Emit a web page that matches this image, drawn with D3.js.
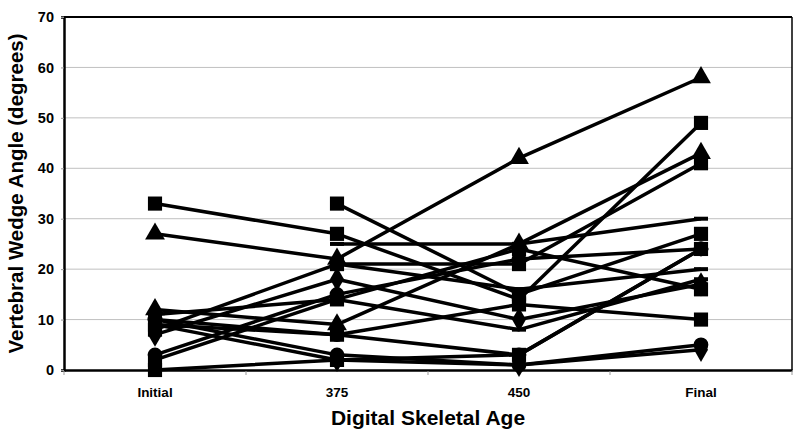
<!DOCTYPE html>
<html>
<head>
<meta charset="utf-8">
<script src="https://cdn.jsdelivr.net/npm/d3@7"></script>
<style>
  body { margin: 0; background: #fff; }
  text { font-family: "Liberation Sans", Arial, sans-serif; font-weight: bold; }
</style>
</head>
<body>
<svg id="chart" width="800" height="443"></svg>
<script>
// Data
var categories = ['Initial', '375', '450', 'Final'];
var yTicks = [0, 10, 20, 30, 40, 50, 60, 70];

// one array per specimen, null = not measured
var s1 = [27, 22, 42, 58],   // triangle
    s2 = [33, 27, 14, 49],   // square
    s3 = [null, 33, 15, 27], // square
    s4 = [12, 9, 25, 43],    // triangle
    s5 = [8, 21, 21, 41],    // square
    s6 = [null, 25, 25, 30], // dash
    s7 = [3, 15, 22, 24],    // circle
    s8 = [7, 18, 10, 17],    // diamond
    s9 = [0, 2, 3, 24],      // square
    s10 = [2, 14, 24, 16],   // square
    s11 = [10, 3, 1, 5],     // circle
    s12 = [9, 2, 1, 4],      // diamond
    s13 = [10, 7, 3, 24],    // circle
    s14 = [11, 14, 8, 18],   // dash
    s15 = [9, 7, 13, 10],    // square
    s16 = [null, 21, 16, 20]; // dash

var seriesList = [
    { values: s1, marker: 'triangle' },
    { values: s2, marker: 'square' },
    { values: s3, marker: 'square' },
    { values: s4, marker: 'triangle' },
    { values: s5, marker: 'square' },
    { values: s6, marker: 'dash' },
    { values: s7, marker: 'circle' },
    { values: s8, marker: 'diamond' },
    { values: s9, marker: 'square' },
    { values: s10, marker: 'square' },
    { values: s11, marker: 'circle' },
    { values: s12, marker: 'diamond' },
    { values: s13, marker: 'circle' },
    { values: s14, marker: 'dash' },
    { values: s15, marker: 'square' },
    { values: s16, marker: 'dash' }
];

var margin = { top: 17, right: 8, bottom: 73, left: 64 },
    width = 800 - margin.left - margin.right,
    height = 443 - margin.top - margin.bottom;

var svg = d3.select('#chart');
var g = svg.append('g').attr('transform', 'translate(' + margin.left + ',' + margin.top + ')');

var x = d3.scaleBand().domain(categories).range([0, width]).padding(0);
var y = d3.scaleLinear().domain([0, 70]).range([height, 0]);

// gridlines
g.selectAll('.grid').data(yTicks.slice(1, -1)).enter().append('line')
    .attr('x1', 0).attr('x2', width)
    .attr('y1', function (d) { return y(d); })
    .attr('y2', function (d) { return y(d); })
    .attr('stroke', '#c0c0c0').attr('stroke-width', 1);

// frame (top & right)
g.append('line').attr('x1', 0).attr('x2', width).attr('y1', 0).attr('y2', 0)
    .attr('stroke', '#000').attr('stroke-width', 2);
g.append('line').attr('x1', width).attr('x2', width).attr('y1', 0).attr('y2', height)
    .attr('stroke', '#000').attr('stroke-width', 1.5);

// y axis
var yAxis = g.append('g').call(d3.axisLeft(y).tickValues(yTicks).tickSize(3).tickPadding(7));
yAxis.select('.domain').attr('stroke', '#000').attr('stroke-width', 2.5);
yAxis.selectAll('.tick line').attr('stroke', '#999');
yAxis.selectAll('.tick text').attr('font-size', 14.5).attr('fill', '#000')
    .style('font-family', '"Liberation Sans", Arial, sans-serif').style('font-weight', 'bold');

// x axis
var xAxis = g.append('g').attr('transform', 'translate(0,' + height + ')')
    .call(d3.axisBottom(x).tickSize(0).tickPadding(17));
xAxis.select('.domain').attr('stroke', '#000').attr('stroke-width', 2.5);
xAxis.selectAll('.tick text').attr('font-size', 13.5).attr('fill', '#000')
    .style('font-family', '"Liberation Sans", Arial, sans-serif').style('font-weight', 'bold');
// boundary ticks between categories
var bounds = categories.map(function (c) { return x(c); }).concat([width]);
g.selectAll('.btick').data(bounds).enter().append('line')
    .attr('x1', function (d) { return d; }).attr('x2', function (d) { return d; })
    .attr('y1', height + 1).attr('y2', height + 5)
    .attr('stroke', '#999').attr('stroke-width', 1);

// lines
var line = d3.line()
    .defined(function (d) { return d != null; })
    .x(function (d, i) { return x(categories[i]) + x.bandwidth() / 2; })
    .y(function (d) { return y(d); });

g.selectAll('.series').data(seriesList).enter().append('path')
    .attr('d', function (s) { return line(s.values); })
    .attr('fill', 'none').attr('stroke', '#000').attr('stroke-width', 3.5)
    .attr('stroke-linejoin', 'round');

// markers
var symbolTypes = {
    square: d3.symbol().type(d3.symbolSquare).size(200),
    triangle: d3.symbol().type(d3.symbolTriangle).size(170),
    circle: d3.symbol().type(d3.symbolCircle).size(170),
    diamond: d3.symbol().type(d3.symbolDiamond).size(170)
};

seriesList.forEach(function (s) {
    var pts = [];
    s.values.forEach(function (v, i) { if (v != null) pts.push({ v: v, c: categories[i] }); });
    var sel = g.append('g').selectAll('.m').data(pts).enter();
    if (s.marker === 'dash') {
        sel.append('rect')
            .attr('x', function (d) { return x(d.c) + x.bandwidth() / 2 - 7; })
            .attr('y', function (d) { return y(d.v) - 2; })
            .attr('width', 14).attr('height', 4).attr('fill', '#000');
    } else {
        sel.append('path')
            .attr('d', symbolTypes[s.marker])
            .attr('transform', function (d) {
                return 'translate(' + (x(d.c) + x.bandwidth() / 2) + ',' + y(d.v) + ')';
            })
            .attr('fill', '#000');
    }
});

// axis titles
svg.append('text')
    .attr('transform', 'translate(23,' + (margin.top + height / 2) + ') rotate(-90)')
    .attr('text-anchor', 'middle').attr('font-size', 20.5)
    .text('Vertebral Wedge Angle (degrees)');

svg.append('text')
    .attr('x', margin.left + width / 2).attr('y', 425)
    .attr('text-anchor', 'middle').attr('font-size', 21)
    .text('Digital Skeletal Age');
</script>
</body>
</html>
